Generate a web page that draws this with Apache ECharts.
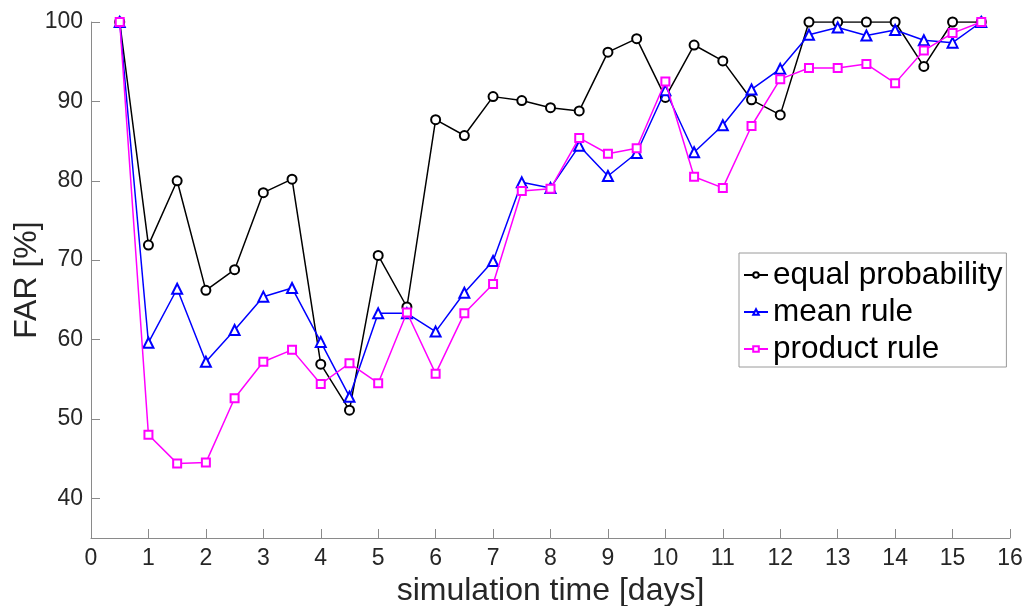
<!DOCTYPE html>
<html>
<head>
<meta charset="utf-8">
<script src="https://cdn.jsdelivr.net/npm/echarts@6/dist/echarts.min.js"></script>
<style>html,body{margin:0;padding:0;background:#fff}#c{width:1025px;height:606px}</style>
</head>
<body>
<div id="c"></div>
<script>
var days = [0.5,1,1.5,2,2.5,3,3.5,4,4.5,5,5.5,6,6.5,7,7.5,8,8.5,9,9.5,10,10.5,11,11.5,12,12.5,13,13.5,14,14.5,15,15.5];
var equalProbability = [100,71.9,80.0,66.2,68.8,78.5,80.2,56.9,51.1,70.6,64.1,87.7,85.7,90.6,90.1,89.2,88.8,96.2,97.9,90.5,97.1,95.1,90.2,88.3,100,100,100,100,94.4,100,100];
var meanRule = [100,59.6,66.4,57.2,61.2,65.4,66.5,59.7,52.8,63.3,63.3,61.0,65.9,69.9,79.8,79.1,84.4,80.6,83.5,91.4,83.6,87.0,91.5,94.1,98.4,99.3,98.3,99.0,97.7,97.4,100];
var productRule = [100,48.0,44.4,44.5,52.6,57.2,58.7,54.4,57.0,54.5,63.4,55.7,63.3,67.0,78.7,79.0,85.4,83.4,84.1,92.5,80.5,79.1,86.9,92.8,94.2,94.2,94.7,92.3,96.4,98.6,100];
var yTicks = [40,50,60,70,80,90,100];
var seriesNames = ['equal probability','mean rule','product rule'];

function pairs(vals){ return days.map(function(d,i){ return [d, vals[i]]; }); }

var chart = echarts.init(document.getElementById('c'), null, {renderer:'canvas'});
var font = 'Arial, "Liberation Sans", Helvetica, sans-serif';
chart.setOption({
  animation: false,
  backgroundColor: '#fff',
  grid: {left: 91, right: 15, top: 22, bottom: 68, containLabel: false, outerBoundsMode: 'none'},
  xAxis: {
    type: 'value', min: 0, max: 16, interval: 1,
    name: 'simulation time [days]', nameLocation: 'middle', nameGap: 37, nameMoveOverlap: false,
    nameTextStyle: {fontSize: 32, color: '#262626', fontFamily: font},
    axisLine: {show: true, onZero: false, lineStyle: {color: '#8a8a8a', width: 1}},
    axisTick: {show: true, inside: true, length: 9, lineStyle: {color: '#8a8a8a'}},
    axisLabel: {fontSize: 23, color: '#262626', fontFamily: font, margin: 9},
    splitLine: {show: false}
  },
  yAxis: {
    type: 'value', min: 35, max: 100,
    name: 'FAR [%]', nameLocation: 'middle', nameGap: 48, nameRotate: 90, nameMoveOverlap: false,
    nameTextStyle: {fontSize: 32, color: '#262626', fontFamily: font},
    axisLine: {show: true, onZero: false, lineStyle: {color: '#8a8a8a', width: 1}},
    axisTick: {show: true, inside: true, length: 9, customValues: yTicks, lineStyle: {color: '#8a8a8a'}},
    axisLabel: {fontSize: 23, color: '#262626', fontFamily: font, margin: 8, customValues: yTicks},
    splitLine: {show: false}
  },
  legend: {
    orient: 'vertical', left: 739, top: 253,
    data: seriesNames,
    backgroundColor: '#fff', borderColor: '#9a9a9a', borderWidth: 1,
    padding: [6, 4, 2, 4], itemGap: 5, itemWidth: 24, itemHeight: 7,
    textStyle: {fontSize: 31.5, color: '#000', fontFamily: font}
  },
  series: [
    {name: seriesNames[0], type: 'line', data: pairs(equalProbability), symbol: 'emptyCircle', symbolSize: 9,
     lineStyle: {color: '#000', width: 1.5}, itemStyle: {color: '#000', borderWidth: 1.2}, z: 3},
    {name: seriesNames[1], type: 'line', data: pairs(meanRule), symbol: 'emptyTriangle', symbolSize: 10,
     lineStyle: {color: '#0000ff', width: 1.5}, itemStyle: {color: '#0000ff', borderWidth: 1.2}, z: 4},
    {name: seriesNames[2], type: 'line', data: pairs(productRule), symbol: 'emptyRect', symbolSize: 8,
     lineStyle: {color: '#ff00ff', width: 1.5}, itemStyle: {color: '#ff00ff', borderWidth: 1.2}, z: 5}
  ]
});
</script>
</body>
</html>
